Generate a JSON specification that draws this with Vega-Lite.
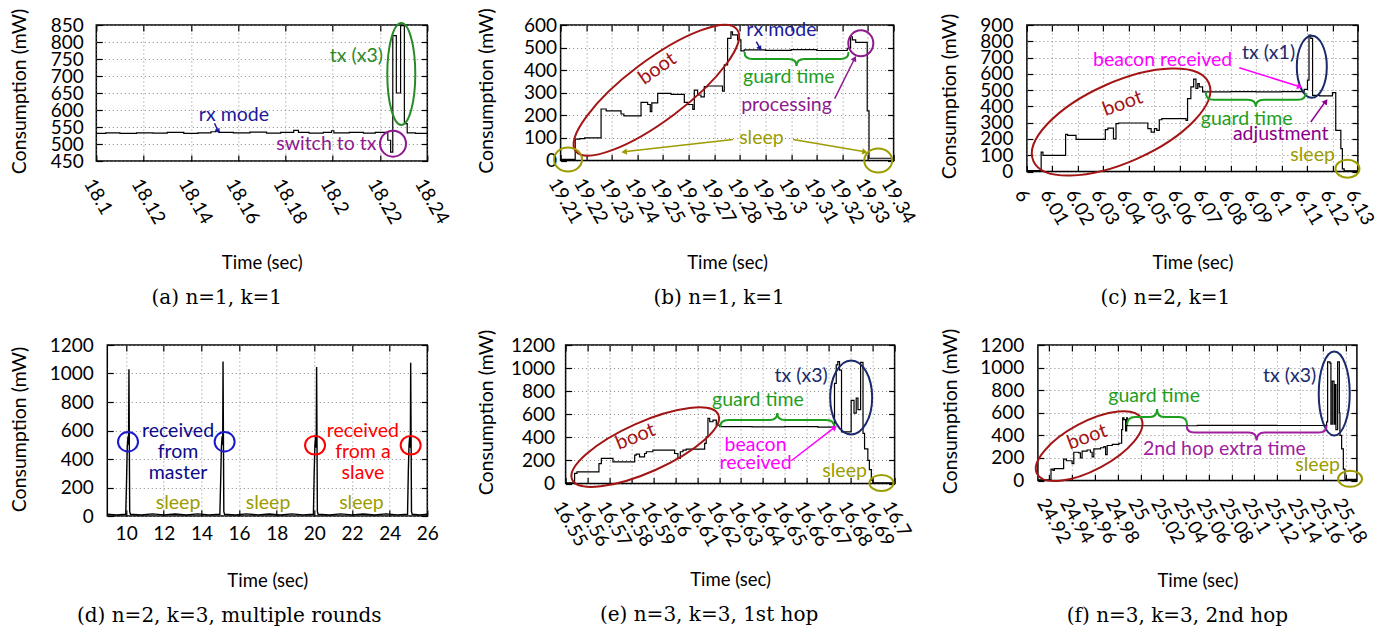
{
"$schema": "https://vega.github.io/schema/vega-lite/v6.json",
"background": "white",
"padding": {"left": 0, "top": 2, "right": 0, "bottom": 0},
"columns": 4,
"spacing": {"row": 13, "column": 2.3},
"bounds": "full",
"align": {"row": "all", "column": "none"},
"datasets": {
"a": [{"t":18.1,"p":531},{"t":18.104,"p":533},{"t":18.11,"p":531},{"t":18.117,"p":533},{"t":18.124,"p":532},{"t":18.13,"p":534},{"t":18.137,"p":531},{"t":18.143,"p":533},{"t":18.1485,"p":536},{"t":18.1505,"p":538},{"t":18.152,"p":534},{"t":18.158,"p":533},{"t":18.165,"p":535},{"t":18.172,"p":532},{"t":18.178,"p":534},{"t":18.1835,"p":540},{"t":18.1855,"p":534},{"t":18.19,"p":532},{"t":18.196,"p":534},{"t":18.1995,"p":539},{"t":18.2005,"p":533},{"t":18.207,"p":534},{"t":18.213,"p":532},{"t":18.218,"p":534},{"t":18.2233,"p":511},{"t":18.2245,"p":476},{"t":18.2254,"p":819},{"t":18.2269,"p":650},{"t":18.2287,"p":848},{"t":18.2303,"p":560},{"t":18.2315,"p":533},{"t":18.235,"p":531},{"t":18.24,"p":532}],
"b": [{"t":19.21,"p":5},{"t":19.2157,"p":95},{"t":19.2175,"p":97},{"t":19.2194,"p":100},{"t":19.2258,"p":228},{"t":19.2278,"p":220},{"t":19.2336,"p":206},{"t":19.2347,"p":198},{"t":19.2414,"p":257},{"t":19.244,"p":248},{"t":19.245,"p":216},{"t":19.2456,"p":255},{"t":19.2479,"p":297},{"t":19.2531,"p":293},{"t":19.2583,"p":257},{"t":19.2596,"p":248},{"t":19.2616,"p":226},{"t":19.2622,"p":312},{"t":19.2635,"p":290},{"t":19.2648,"p":282},{"t":19.2661,"p":327},{"t":19.2674,"p":330},{"t":19.2732,"p":307},{"t":19.2739,"p":423},{"t":19.2752,"p":541},{"t":19.2765,"p":570},{"t":19.2771,"p":556},{"t":19.2791,"p":534},{"t":19.2804,"p":485},{"t":19.2817,"p":490},{"t":19.29,"p":488},{"t":19.3,"p":491},{"t":19.31,"p":487},{"t":19.3219,"p":497},{"t":19.3232,"p":548},{"t":19.3239,"p":534},{"t":19.3252,"p":523},{"t":19.3297,"p":220},{"t":19.3304,"p":10},{"t":19.34,"p":10}],
"c": [{"t":6,"p":6},{"t":6.0056,"p":119},{"t":6.0063,"p":99},{"t":6.0152,"p":228},{"t":6.016,"p":222},{"t":6.0193,"p":197},{"t":6.0308,"p":257},{"t":6.0318,"p":267},{"t":6.034,"p":201},{"t":6.035,"p":294},{"t":6.036,"p":298},{"t":6.0475,"p":263},{"t":6.0488,"p":242},{"t":6.0501,"p":263},{"t":6.051,"p":253},{"t":6.052,"p":318},{"t":6.053,"p":325},{"t":6.0625,"p":314},{"t":6.0631,"p":448},{"t":6.0644,"p":520},{"t":6.0655,"p":567},{"t":6.0664,"p":510},{"t":6.0671,"p":540},{"t":6.0677,"p":520},{"t":6.069,"p":489},{"t":6.08,"p":491},{"t":6.09,"p":489},{"t":6.1,"p":491},{"t":6.1089,"p":505},{"t":6.1102,"p":561},{"t":6.1108,"p":838},{"t":6.1115,"p":818},{"t":6.1122,"p":468},{"t":6.115,"p":464},{"t":6.12,"p":485},{"t":6.1213,"p":253},{"t":6.1233,"p":140},{"t":6.1239,"p":16},{"t":6.1246,"p":4},{"t":6.13,"p":4}],
"d": [{"t":9,"p":12},{"t":9.5,"p":7},{"t":9.98,"p":12},{"t":10.02,"p":230},{"t":10.06,"p":480},{"t":10.1,"p":560},{"t":10.13,"p":500},{"t":10.15,"p":1030},{"t":10.19,"p":30},{"t":10.23,"p":12},{"t":10.8,"p":7},{"t":11.4,"p":15},{"t":12,"p":8},{"t":12.6,"p":14},{"t":13.2,"p":7},{"t":13.8,"p":15},{"t":14.4,"p":8},{"t":14.98,"p":12},{"t":15.02,"p":230},{"t":15.06,"p":480},{"t":15.1,"p":560},{"t":15.13,"p":500},{"t":15.148,"p":1085},{"t":15.19,"p":30},{"t":15.23,"p":12},{"t":15.8,"p":7},{"t":16.4,"p":15},{"t":17,"p":8},{"t":17.6,"p":14},{"t":18.2,"p":7},{"t":18.8,"p":15},{"t":19.4,"p":8},{"t":19.95,"p":12},{"t":19.99,"p":300},{"t":20.03,"p":500},{"t":20.07,"p":560},{"t":20.1,"p":480},{"t":20.12,"p":1045},{"t":20.16,"p":30},{"t":20.2,"p":12},{"t":20.8,"p":7},{"t":21.4,"p":15},{"t":22,"p":8},{"t":22.6,"p":14},{"t":23.2,"p":7},{"t":23.8,"p":15},{"t":24.4,"p":8},{"t":24.95,"p":12},{"t":24.99,"p":300},{"t":25.03,"p":500},{"t":25.07,"p":560},{"t":25.1,"p":480},{"t":25.117,"p":1075},{"t":25.16,"p":30},{"t":25.2,"p":12},{"t":25.6,"p":7},{"t":26,"p":12}],
"e": [{"t":16.55,"p":6},{"t":16.5541,"p":87},{"t":16.5552,"p":101},{"t":16.5652,"p":173},{"t":16.5663,"p":217},{"t":16.5716,"p":188},{"t":16.5815,"p":246},{"t":16.5822,"p":254},{"t":16.5837,"p":231},{"t":16.586,"p":260},{"t":16.5868,"p":275},{"t":16.5898,"p":289},{"t":16.5997,"p":260},{"t":16.6012,"p":217},{"t":16.6023,"p":275},{"t":16.6035,"p":289},{"t":16.605,"p":298},{"t":16.6134,"p":347},{"t":16.6141,"p":405},{"t":16.6149,"p":564},{"t":16.6157,"p":535},{"t":16.6172,"p":549},{"t":16.6187,"p":506},{"t":16.6202,"p":492},{"t":16.635,"p":490},{"t":16.65,"p":492},{"t":16.665,"p":489},{"t":16.6726,"p":868},{"t":16.6734,"p":1027},{"t":16.6741,"p":1056},{"t":16.6749,"p":983},{"t":16.6758,"p":448},{"t":16.6802,"p":720},{"t":16.6815,"p":610},{"t":16.6825,"p":740},{"t":16.6833,"p":640},{"t":16.6845,"p":1050},{"t":16.6856,"p":434},{"t":16.6863,"p":300},{"t":16.6878,"p":200},{"t":16.6885,"p":120},{"t":16.6894,"p":29},{"t":16.6901,"p":6},{"t":16.7,"p":6}],
"f": [{"t":24.91,"p":6},{"t":24.9215,"p":100},{"t":24.9232,"p":90},{"t":24.9244,"p":105},{"t":24.9326,"p":190},{"t":24.935,"p":175},{"t":24.94,"p":150},{"t":24.9415,"p":250},{"t":24.9459,"p":245},{"t":24.9473,"p":200},{"t":24.9488,"p":260},{"t":24.9532,"p":270},{"t":24.9561,"p":250},{"t":24.9576,"p":210},{"t":24.9591,"p":280},{"t":24.965,"p":290},{"t":24.9679,"p":300},{"t":24.9694,"p":230},{"t":24.9708,"p":310},{"t":24.9753,"p":320},{"t":24.9811,"p":330},{"t":24.9835,"p":450},{"t":24.9844,"p":555},{"t":24.9855,"p":540},{"t":24.987,"p":440},{"t":24.9879,"p":555},{"t":24.9885,"p":485},{"t":25.05,"p":489},{"t":25.12,"p":487},{"t":25.1619,"p":489},{"t":25.1634,"p":520},{"t":25.1643,"p":1050},{"t":25.1663,"p":1040},{"t":25.1672,"p":500},{"t":25.1684,"p":880},{"t":25.1699,"p":500},{"t":25.1707,"p":850},{"t":25.1716,"p":450},{"t":25.1731,"p":1050},{"t":25.1746,"p":600},{"t":25.1751,"p":400},{"t":25.1766,"p":280},{"t":25.1781,"p":100},{"t":25.1795,"p":10},{"t":25.19,"p":8}]
},
"concat": [
{"width": 1, "height": 1, "view": {"stroke": null}, "data": {"values": [{"t": 0}]}, "mark": {"type": "point", "opacity": 0, "size": 1}, "encoding": {}},
{
"width": 331, "height": 136,
"title": {"text": "(a) n=1, k=1", "dx": -45},
"resolve": {"axis": {"x": "independent", "y": "independent"}},
"layer": [
{"data": {"name": "a"}, "mark": {"type": "line", "opacity": 0},
 "encoding": {"x": {"field": "t", "type": "quantitative", "axis": {"orient": "top", "values": [18.1,18.12,18.14,18.16,18.18,18.2,18.22,18.24], "labels": false, "grid": false, "minExtent": 0, "title": ".", "titleOpacity": 0, "titleFontSize": 4, "titleX": -91, "titleY": -22, "titleAlign": "right", "titleBaseline": "top"}},
  "y": {"field": "p", "type": "quantitative", "axis": {"orient": "right", "values": [450,500,550,600,650,700,750,800,850], "labels": false, "grid": false, "minExtent": 0, "title": ".", "titleOpacity": 0, "titleFontSize": 4, "titleAngle": 0, "titleX": 28.5, "titleY": -22, "titleAlign": "left", "titleBaseline": "top"}}}},
{"data": {"name": "a"}, "mark": {"type": "line", "interpolate": "step-after", "color": "#000", "strokeWidth": 1.2},
 "encoding": {"x": {"field": "t", "type": "quantitative", "scale": {"domain": [18.1, 18.24], "nice": false, "zero": false}, "axis": {"orient": "bottom", "values": [18.1,18.12,18.14,18.16,18.18,18.2,18.22,18.24], "grid": true, "labelAngle": 60, "labelAlign": "left", "labelBaseline": "middle", "labelPadding": 25, "labelOffset": -8, "title": "Time (sec)", "titleY": 101, "titleBaseline": "middle"}},
  "y": {"field": "p", "type": "quantitative", "scale": {"domain": [450, 850], "nice": false, "zero": false}, "axis": {"orient": "left", "values": [450,500,550,600,650,700,750,800,850], "grid": true, "labelPadding": 19, "title": "Consumption (mW)", "titleX": -76.7, "titleY": 66, "titleBaseline": "middle"}}}},
{"data": {"values": [{"t":18.1582,"p":584,"label":"rx mode","kind":"rx"},{"t":18.21,"p":760,"label":"tx (x3)","kind":"txa"},{"t":18.1973,"p":499,"label":"switch to tx","kind":"switch"}]},
 "mark": {"type": "text", "font": "Lato", "fontSize": 19.5, "align": "center", "baseline": "middle"},
 "encoding": {"x": {"field": "t", "type": "quantitative", "axis": null}, "y": {"field": "p", "type": "quantitative", "axis": null}, "text": {"field": "label"},
  "color": {"field": "kind", "type": "nominal", "legend": null, "scale": {"domain": ["boot","sleep","guard","rx","proc","txa","tx","beacon","adjust","master","slave","hop","switch"], "range": ["#A31515","#9C9C00","#1E9E1E","#1A1A9A","#8E1A8E","#2A8A2A","#1B2A6B","#FF00FF","#8B008B","#0A0A8A","#FF0000","#A020A0","#8E1A8E"]}}}},
{"data": {"values": [{"t":18.229,"p":706}]}, "mark": {"type": "point", "shape": "M -14 0 A 14 51 0 1 0 14 0 A 14 51 0 1 0 -14 0 Z", "size": 4, "filled": false, "opacity": 1, "stroke": "#2A8A2A", "strokeWidth": 2},
 "encoding": {"x": {"field": "t", "type": "quantitative", "axis": null}, "y": {"field": "p", "type": "quantitative", "axis": null}}},
{"data": {"values": [{"t":18.2255,"p":501}]}, "mark": {"type": "point", "shape": "M -13 0 A 13 13 0 1 0 13 0 A 13 13 0 1 0 -13 0 Z", "size": 4, "filled": false, "opacity": 1, "stroke": "#8E1A8E", "strokeWidth": 2},
 "encoding": {"x": {"field": "t", "type": "quantitative", "axis": null}, "y": {"field": "p", "type": "quantitative", "axis": null}}},
{"data": {"values": [{"t":18.15,"p":561,"t2":18.1513,"p2":541}]}, "mark": {"type": "rule", "color": "#1A1A9A", "strokeWidth": 1.5},
 "encoding": {"x": {"field": "t", "type": "quantitative", "axis": null}, "y": {"field": "p", "type": "quantitative", "axis": null}, "x2": {"field": "t2"}, "y2": {"field": "p2"}}},
{"data": {"values": [{"t":18.1515,"p":538}]}, "mark": {"type": "point", "shape": "triangle-up", "size": 30, "filled": true, "opacity": 1, "color": "#1A1A9A", "angle": 159},
 "encoding": {"x": {"field": "t", "type": "quantitative", "axis": null}, "y": {"field": "p", "type": "quantitative", "axis": null}}}
]
},
{
"width": 333, "height": 135.5,
"title": {"text": "(b) n=1, k=1", "dx": -8},
"resolve": {"axis": {"x": "independent", "y": "independent"}},
"layer": [
{"data": {"name": "b"}, "mark": {"type": "line", "opacity": 0},
 "encoding": {"x": {"field": "t", "type": "quantitative", "axis": {"orient": "top", "values": [19.21,19.22,19.23,19.24,19.25,19.26,19.27,19.28,19.29,19.3,19.31,19.32,19.33,19.34], "labels": false, "grid": false, "minExtent": 0, "title": ".", "titleOpacity": 0, "titleFontSize": 4, "titleX": -98, "titleY": -22, "titleAlign": "right", "titleBaseline": "top"}},
  "y": {"field": "p", "type": "quantitative", "axis": {"orient": "right", "values": [0,100,200,300,400,500,600], "labels": false, "grid": false, "minExtent": 0, "title": ".", "titleOpacity": 0, "titleFontSize": 4, "titleAngle": 0, "titleX": 30.5, "titleY": -22, "titleAlign": "left", "titleBaseline": "top"}}}},
{"data": {"name": "b"}, "mark": {"type": "line", "interpolate": "step-after", "color": "#000", "strokeWidth": 1.2},
 "encoding": {"x": {"field": "t", "type": "quantitative", "scale": {"domain": [19.21, 19.34], "nice": false, "zero": false}, "axis": {"orient": "bottom", "values": [19.21,19.22,19.23,19.24,19.25,19.26,19.27,19.28,19.29,19.3,19.31,19.32,19.33,19.34], "grid": true, "labelAngle": 60, "labelAlign": "left", "labelBaseline": "middle", "labelPadding": 25, "labelOffset": -8, "title": "Time (sec)", "titleY": 102, "titleBaseline": "middle"}},
  "y": {"field": "p", "type": "quantitative", "scale": {"domain": [0, 600], "nice": false}, "axis": {"orient": "left", "values": [0,100,200,300,400,500,600], "grid": true, "labelPadding": 10, "title": "Consumption (mW)", "titleX": -74.3, "titleY": 65.5, "titleBaseline": "middle"}}}},
{"data": {"values": [{"t":19.2962,"p":578,"label":"rx mode","kind":"rx"},{"t":19.2991,"p":370,"label":"guard time","kind":"guard"},{"t":19.2982,"p":244,"label":"processing","kind":"proc"},{"t":19.2884,"p":101,"label":"sleep","kind":"sleep"}]},
 "mark": {"type": "text", "font": "Lato", "fontSize": 19.5, "align": "center", "baseline": "middle"},
 "encoding": {"x": {"field": "t", "type": "quantitative", "axis": null}, "y": {"field": "p", "type": "quantitative", "axis": null}, "text": {"field": "label"},
  "color": {"field": "kind", "type": "nominal", "legend": null, "scale": {"domain": ["boot","sleep","guard","rx","proc","txa","tx","beacon","adjust","master","slave","hop","switch"], "range": ["#A31515","#9C9C00","#1E9E1E","#1A1A9A","#8E1A8E","#2A8A2A","#1B2A6B","#FF00FF","#8B008B","#0A0A8A","#FF0000","#A020A0","#8E1A8E"]}}}},
{"data": {"values": [{"t":19.2478,"p":407,"label":"boot"}]}, "mark": {"type": "text", "font": "Lato", "fontSize": 20, "align": "center", "baseline": "middle", "angle": 325, "color": "#A31515"},
 "encoding": {"x": {"field": "t", "type": "quantitative", "axis": null}, "y": {"field": "p", "type": "quantitative", "axis": null}, "text": {"field": "label"}}},
{"data": {"values": [{"t":19.2474,"p":311}]}, "mark": {"type": "point", "shape": "M -101 0 A 101 30 0 1 0 101 0 A 101 30 0 1 0 -101 0 Z", "size": 4, "angle": 323, "filled": false, "opacity": 1, "stroke": "#A31515", "strokeWidth": 2},
 "encoding": {"x": {"field": "t", "type": "quantitative", "axis": null}, "y": {"field": "p", "type": "quantitative", "axis": null}}},
{"data": {"values": [{"t":19.2129,"p":4},{"t":19.334,"p":0}]}, "mark": {"type": "point", "shape": "M -14 0 A 14 12 0 1 0 14 0 A 14 12 0 1 0 -14 0 Z", "size": 4, "filled": false, "opacity": 1, "stroke": "#9C9C00", "strokeWidth": 2},
 "encoding": {"x": {"field": "t", "type": "quantitative", "axis": null}, "y": {"field": "p", "type": "quantitative", "axis": null}}},
{"data": {"values": [{"t":19.3272,"p":519}]}, "mark": {"type": "point", "shape": "M -12.5 0 A 12.5 13 0 1 0 12.5 0 A 12.5 13 0 1 0 -12.5 0 Z", "size": 4, "filled": false, "opacity": 1, "stroke": "#8E1A8E", "strokeWidth": 2},
 "encoding": {"x": {"field": "t", "type": "quantitative", "axis": null}, "y": {"field": "p", "type": "quantitative", "axis": null}}},
{"data": {"values": [{"t":19.3021,"p":449}]}, "mark": {"type": "point", "shape": "M -52 -7 Q -52 0 -44 0 L -8 0 Q 0 0 0 7 Q 0 0 8 0 L 44 0 Q 52 0 52 -7", "size": 4, "filled": false, "opacity": 1, "stroke": "#1E9E1E", "strokeWidth": 2},
 "encoding": {"x": {"field": "t", "type": "quantitative", "axis": null}, "y": {"field": "p", "type": "quantitative", "axis": null}}},
{"data": {"values": [{"t":19.2864,"p":526,"t2":19.2876,"p2":502,"kind":"rx"},{"t":19.317,"p":274,"t2":19.3245,"p2":445,"kind":"proc"},{"t":19.2773,"p":93,"t2":19.2355,"p2":40,"kind":"sleep"},{"t":19.3008,"p":93,"t2":19.3282,"p2":40,"kind":"sleep"}]}, "mark": {"type": "rule", "strokeWidth": 1.5},
 "encoding": {"x": {"field": "t", "type": "quantitative", "axis": null}, "y": {"field": "p", "type": "quantitative", "axis": null}, "x2": {"field": "t2"}, "y2": {"field": "p2"},
  "color": {"field": "kind", "type": "nominal", "legend": null, "scale": {"domain": ["boot","sleep","guard","rx","proc","txa","tx","beacon","adjust","master","slave","hop","switch"], "range": ["#A31515","#9C9C00","#1E9E1E","#1A1A9A","#8E1A8E","#2A8A2A","#1B2A6B","#FF00FF","#8B008B","#0A0A8A","#FF0000","#A020A0","#8E1A8E"]}}}},
{"data": {"values": [{"t":19.2878,"p":496}]}, "mark": {"type": "point", "shape": "triangle-up", "size": 30, "filled": true, "opacity": 1, "color": "#1A1A9A", "angle": 154},
 "encoding": {"x": {"field": "t", "type": "quantitative", "axis": null}, "y": {"field": "p", "type": "quantitative", "axis": null}}},
{"data": {"values": [{"t":19.3248,"p":452}]}, "mark": {"type": "point", "shape": "triangle-up", "size": 40, "filled": true, "opacity": 1, "color": "#8E1A8E", "angle": 27},
 "encoding": {"x": {"field": "t", "type": "quantitative", "axis": null}, "y": {"field": "p", "type": "quantitative", "axis": null}}},
{"data": {"values": [{"t":19.2348,"p":38}]}, "mark": {"type": "point", "shape": "triangle-up", "size": 40, "filled": true, "opacity": 1, "color": "#9C9C00", "angle": 263},
 "encoding": {"x": {"field": "t", "type": "quantitative", "axis": null}, "y": {"field": "p", "type": "quantitative", "axis": null}}},
{"data": {"values": [{"t":19.3288,"p":38}]}, "mark": {"type": "point", "shape": "triangle-up", "size": 40, "filled": true, "opacity": 1, "color": "#9C9C00", "angle": 100},
 "encoding": {"x": {"field": "t", "type": "quantitative", "axis": null}, "y": {"field": "p", "type": "quantitative", "axis": null}}}
]
},
{
"width": 331, "height": 146.5,
"title": {"text": "(c) n=2, k=1", "dx": -27},
"resolve": {"axis": {"x": "independent", "y": "independent"}},
"layer": [
{"data": {"name": "c"}, "mark": {"type": "line", "opacity": 0},
 "encoding": {"x": {"field": "t", "type": "quantitative", "axis": {"orient": "top", "values": [6,6.01,6.02,6.03,6.04,6.05,6.06,6.07,6.08,6.09,6.1,6.11,6.12,6.13], "labels": false, "grid": false, "minExtent": 0, "title": ".", "titleOpacity": 0, "titleFontSize": 4, "titleX": -96, "titleY": -22, "titleAlign": "right", "titleBaseline": "top"}},
  "y": {"field": "p", "type": "quantitative", "axis": {"orient": "right", "values": [0,100,200,300,400,500,600,700,800,900], "labels": false, "grid": false, "minExtent": 0, "title": ".", "titleOpacity": 0, "titleFontSize": 4, "titleAngle": 0, "titleX": 28, "titleY": -22, "titleAlign": "left", "titleBaseline": "top"}}}},
{"data": {"name": "c"}, "mark": {"type": "line", "interpolate": "step-after", "color": "#000", "strokeWidth": 1.2},
 "encoding": {"x": {"field": "t", "type": "quantitative", "scale": {"domain": [6, 6.13], "nice": false, "zero": false}, "axis": {"orient": "bottom", "values": [6,6.01,6.02,6.03,6.04,6.05,6.06,6.07,6.08,6.09,6.1,6.11,6.12,6.13], "grid": true, "labelAngle": 60, "labelAlign": "left", "labelBaseline": "middle", "labelPadding": 25, "labelOffset": -8, "title": "Time (sec)", "titleY": 91, "titleBaseline": "middle"}},
  "y": {"field": "p", "type": "quantitative", "scale": {"domain": [0, 900], "nice": false}, "axis": {"orient": "left", "values": [0,100,200,300,400,500,600,700,800,900], "grid": true, "labelPadding": 20, "title": "Consumption (mW)", "titleX": -77.2, "titleY": 71, "titleBaseline": "middle"}}}},
{"data": {"values": [{"t":6.0863,"p":320,"label":"guard time","kind":"guard"},{"t":6.0949,"p":725,"label":"tx (x1)","kind":"tx"},{"t":6.0533,"p":684,"label":"beacon received","kind":"beacon"},{"t":6.0997,"p":232,"label":"adjustment","kind":"adjust"},{"t":6.1122,"p":99,"label":"sleep","kind":"sleep"}]},
 "mark": {"type": "text", "font": "Lato", "fontSize": 19.5, "align": "center", "baseline": "middle"},
 "encoding": {"x": {"field": "t", "type": "quantitative", "axis": null}, "y": {"field": "p", "type": "quantitative", "axis": null}, "text": {"field": "label"},
  "color": {"field": "kind", "type": "nominal", "legend": null, "scale": {"domain": ["boot","sleep","guard","rx","proc","txa","tx","beacon","adjust","master","slave","hop","switch"], "range": ["#A31515","#9C9C00","#1E9E1E","#1A1A9A","#8E1A8E","#2A8A2A","#1B2A6B","#FF00FF","#8B008B","#0A0A8A","#FF0000","#A020A0","#8E1A8E"]}}}},
{"data": {"values": [{"t":6.0376,"p":417,"label":"boot"}]}, "mark": {"type": "text", "font": "Lato", "fontSize": 20, "align": "center", "baseline": "middle", "angle": 340, "color": "#A31515"},
 "encoding": {"x": {"field": "t", "type": "quantitative", "axis": null}, "y": {"field": "p", "type": "quantitative", "axis": null}, "text": {"field": "label"}}},
{"data": {"values": [{"t":6.037,"p":304}]}, "mark": {"type": "point", "shape": "M -96 0 A 96 40 0 1 0 96 0 A 96 40 0 1 0 -96 0 Z", "size": 4, "angle": 336, "filled": false, "opacity": 1, "stroke": "#A31515", "strokeWidth": 2},
 "encoding": {"x": {"field": "t", "type": "quantitative", "axis": null}, "y": {"field": "p", "type": "quantitative", "axis": null}}},
{"data": {"values": [{"t":6.1119,"p":643}]}, "mark": {"type": "point", "shape": "M -15 0 A 15 31 0 1 0 15 0 A 15 31 0 1 0 -15 0 Z", "size": 4, "filled": false, "opacity": 1, "stroke": "#1B2A6B", "strokeWidth": 2},
 "encoding": {"x": {"field": "t", "type": "quantitative", "axis": null}, "y": {"field": "p", "type": "quantitative", "axis": null}}},
{"data": {"values": [{"t":6.1259,"p":17}]}, "mark": {"type": "point", "shape": "M -12 0 A 12 9 0 1 0 12 0 A 12 9 0 1 0 -12 0 Z", "size": 4, "filled": false, "opacity": 1, "stroke": "#9C9C00", "strokeWidth": 2},
 "encoding": {"x": {"field": "t", "type": "quantitative", "axis": null}, "y": {"field": "p", "type": "quantitative", "axis": null}}},
{"data": {"values": [{"t":6.0899,"p":441}]}, "mark": {"type": "point", "shape": "M -50 -7 Q -50 0 -42 0 L -8 0 Q 0 0 0 7 Q 0 0 8 0 L 42 0 Q 50 0 50 -7", "size": 4, "filled": false, "opacity": 1, "stroke": "#1E9E1E", "strokeWidth": 2},
 "encoding": {"x": {"field": "t", "type": "quantitative", "axis": null}, "y": {"field": "p", "type": "quantitative", "axis": null}}},
{"data": {"values": [{"t":6.0834,"p":637,"t2":6.1066,"p2":524,"kind":"beacon"},{"t":6.1115,"p":304,"t2":6.117,"p2":425,"kind":"adjust"}]}, "mark": {"type": "rule", "strokeWidth": 1.5},
 "encoding": {"x": {"field": "t", "type": "quantitative", "axis": null}, "y": {"field": "p", "type": "quantitative", "axis": null}, "x2": {"field": "t2"}, "y2": {"field": "p2"},
  "color": {"field": "kind", "type": "nominal", "legend": null, "scale": {"domain": ["boot","sleep","guard","rx","proc","txa","tx","beacon","adjust","master","slave","hop","switch"], "range": ["#A31515","#9C9C00","#1E9E1E","#1A1A9A","#8E1A8E","#2A8A2A","#1B2A6B","#FF00FF","#8B008B","#0A0A8A","#FF0000","#A020A0","#8E1A8E"]}}}},
{"data": {"values": [{"t":6.1072,"p":520}]}, "mark": {"type": "point", "shape": "triangle-up", "size": 40, "filled": true, "opacity": 1, "color": "#FF00FF", "angle": 107},
 "encoding": {"x": {"field": "t", "type": "quantitative", "axis": null}, "y": {"field": "p", "type": "quantitative", "axis": null}}},
{"data": {"values": [{"t":6.1174,"p":431}]}, "mark": {"type": "point", "shape": "triangle-up", "size": 40, "filled": true, "opacity": 1, "color": "#8B008B", "angle": 36},
 "encoding": {"x": {"field": "t", "type": "quantitative", "axis": null}, "y": {"field": "p", "type": "quantitative", "axis": null}}}
]
},
{"width": 1, "height": 1, "view": {"stroke": null}, "data": {"values": [{"t": 0}]}, "mark": {"type": "point", "opacity": 0, "size": 1}, "encoding": {}},
{
"width": 320, "height": 171,
"title": {"text": "(d) n=2, k=3, multiple rounds", "dx": -38},
"resolve": {"axis": {"x": "independent", "y": "independent"}},
"layer": [
{"data": {"name": "d"}, "mark": {"type": "line", "opacity": 0},
 "encoding": {"x": {"field": "t", "type": "quantitative", "axis": {"orient": "top", "values": [10,12,14,16,18,20,22,24,26], "labels": false, "grid": false, "minExtent": 0, "title": ".", "titleOpacity": 0, "titleFontSize": 4, "titleX": -102, "titleY": -22, "titleAlign": "right", "titleBaseline": "top"}},
  "y": {"field": "p", "type": "quantitative", "axis": {"orient": "right", "values": [0,200,400,600,800,1000,1200], "labels": false, "grid": false, "minExtent": 0, "title": ".", "titleOpacity": 0, "titleFontSize": 4, "titleAngle": 0, "titleX": 28.5, "titleY": -22, "titleAlign": "left", "titleBaseline": "top"}}}},
{"data": {"name": "d"}, "mark": {"type": "line", "color": "#000", "strokeWidth": 1.4},
 "encoding": {"x": {"field": "t", "type": "quantitative", "scale": {"domain": [9, 26], "nice": false, "zero": false}, "axis": {"orient": "bottom", "values": [10,12,14,16,18,20,22,24,26], "grid": true, "labelAngle": 0, "labelAlign": "center", "labelBaseline": "top", "labelPadding": 14, "title": "Time (sec)", "titleY": 64, "titleBaseline": "middle"}},
  "y": {"field": "p", "type": "quantitative", "scale": {"domain": [0, 1200], "nice": false}, "axis": {"orient": "left", "values": [0,200,400,600,800,1000,1200], "grid": true, "labelPadding": 20, "title": "Consumption (mW)", "titleX": -87.7, "titleY": 84, "titleBaseline": "middle"}}}},
{"data": {"values": [{"t":12.757,"p":594,"label":"received\nfrom\nmaster","kind":"master"},{"t":22.58,"p":594,"label":"received\nfrom a\nslave","kind":"slave"},{"t":12.757,"p":91,"label":"sleep","kind":"sleep"},{"t":17.54,"p":91,"label":"sleep","kind":"sleep"},{"t":22.5,"p":91,"label":"sleep","kind":"sleep"}]},
 "mark": {"type": "text", "font": "Lato", "fontSize": 19.5, "align": "center", "baseline": "middle", "lineBreak": "\n", "lineHeight": 20.7},
 "encoding": {"x": {"field": "t", "type": "quantitative", "axis": null}, "y": {"field": "p", "type": "quantitative", "axis": null}, "text": {"field": "label"},
  "color": {"field": "kind", "type": "nominal", "legend": null, "scale": {"domain": ["boot","sleep","guard","rx","proc","txa","tx","beacon","adjust","master","slave","hop","switch"], "range": ["#A31515","#9C9C00","#1E9E1E","#1A1A9A","#8E1A8E","#2A8A2A","#1B2A6B","#FF00FF","#8B008B","#0A0A8A","#FF0000","#A020A0","#8E1A8E"]}}}},
{"data": {"values": [{"t":10.1,"p":521},{"t":15.233,"p":521}]}, "mark": {"type": "point", "shape": "M -10 0 A 10 9.7 0 1 0 10 0 A 10 9.7 0 1 0 -10 0 Z", "size": 4, "filled": false, "opacity": 1, "stroke": "#1A1ACC", "strokeWidth": 2},
 "encoding": {"x": {"field": "t", "type": "quantitative", "axis": null}, "y": {"field": "p", "type": "quantitative", "axis": null}}},
{"data": {"values": [{"t":20.036,"p":496},{"t":25.116,"p":496}]}, "mark": {"type": "point", "shape": "M -10 0 A 10 9.3 0 1 0 10 0 A 10 9.3 0 1 0 -10 0 Z", "size": 4, "filled": false, "opacity": 1, "stroke": "#FF0000", "strokeWidth": 2},
 "encoding": {"x": {"field": "t", "type": "quantitative", "axis": null}, "y": {"field": "p", "type": "quantitative", "axis": null}}}
]
},
{
"width": 329, "height": 138.5,
"title": {"text": "(e) n=3, k=3, 1st hop", "dx": -21},
"resolve": {"axis": {"x": "independent", "y": "independent"}},
"layer": [
{"data": {"name": "e"}, "mark": {"type": "line", "opacity": 0},
 "encoding": {"x": {"field": "t", "type": "quantitative", "axis": {"orient": "top", "values": [16.55,16.56,16.57,16.58,16.59,16.6,16.61,16.62,16.63,16.64,16.65,16.66,16.67,16.68,16.69,16.7], "labels": false, "grid": false, "minExtent": 0, "title": ".", "titleOpacity": 0, "titleFontSize": 4, "titleX": -92, "titleY": -22, "titleAlign": "right", "titleBaseline": "top"}},
  "y": {"field": "p", "type": "quantitative", "axis": {"orient": "right", "values": [0,200,400,600,800,1000,1200], "labels": false, "grid": false, "minExtent": 0, "title": ".", "titleOpacity": 0, "titleFontSize": 4, "titleAngle": 0, "titleX": 29.5, "titleY": -22, "titleAlign": "left", "titleBaseline": "top"}}}},
{"data": {"name": "e"}, "mark": {"type": "line", "interpolate": "step-after", "color": "#000", "strokeWidth": 1.2},
 "encoding": {"x": {"field": "t", "type": "quantitative", "scale": {"domain": [16.55, 16.7], "nice": false, "zero": false}, "axis": {"orient": "bottom", "values": [16.55,16.56,16.57,16.58,16.59,16.6,16.61,16.62,16.63,16.64,16.65,16.66,16.67,16.68,16.69,16.7], "grid": true, "labelAngle": 60, "labelAlign": "left", "labelBaseline": "middle", "labelPadding": 25, "labelOffset": -8, "title": "Time (sec)", "titleY": 96, "titleBaseline": "middle"}},
  "y": {"field": "p", "type": "quantitative", "scale": {"domain": [0, 1200], "nice": false}, "axis": {"orient": "left", "values": [0,200,400,600,800,1000,1200], "grid": true, "labelPadding": 17, "title": "Consumption (mW)", "titleX": -79, "titleY": 67, "titleBaseline": "middle"}}}},
{"data": {"values": [{"t":16.6377,"p":723,"label":"guard time","kind":"guard"},{"t":16.6574,"p":931,"label":"tx (x3)","kind":"tx"},{"t":16.6366,"p":333,"label":"beacon\nreceived","kind":"beacon"},{"t":16.6772,"p":110,"label":"sleep","kind":"sleep"}]},
 "mark": {"type": "text", "font": "Lato", "fontSize": 19.5, "align": "center", "baseline": "middle", "lineBreak": "\n", "lineHeight": 18},
 "encoding": {"x": {"field": "t", "type": "quantitative", "axis": null}, "y": {"field": "p", "type": "quantitative", "axis": null}, "text": {"field": "label"},
  "color": {"field": "kind", "type": "nominal", "legend": null, "scale": {"domain": ["boot","sleep","guard","rx","proc","txa","tx","beacon","adjust","master","slave","hop","switch"], "range": ["#A31515","#9C9C00","#1E9E1E","#1A1A9A","#8E1A8E","#2A8A2A","#1B2A6B","#FF00FF","#8B008B","#0A0A8A","#FF0000","#A020A0","#8E1A8E"]}}}},
{"data": {"values": [{"t":16.5819,"p":405,"label":"boot"}]}, "mark": {"type": "text", "font": "Lato", "fontSize": 20, "align": "center", "baseline": "middle", "angle": 338, "color": "#A31515"},
 "encoding": {"x": {"field": "t", "type": "quantitative", "axis": null}, "y": {"field": "p", "type": "quantitative", "axis": null}, "text": {"field": "label"}}},
{"data": {"values": [{"t":16.5863,"p":315}]}, "mark": {"type": "point", "shape": "M -80 0 A 80 25 0 1 0 80 0 A 80 25 0 1 0 -80 0 Z", "size": 4, "angle": 336, "filled": false, "opacity": 1, "stroke": "#A31515", "strokeWidth": 2},
 "encoding": {"x": {"field": "t", "type": "quantitative", "axis": null}, "y": {"field": "p", "type": "quantitative", "axis": null}}},
{"data": {"values": [{"t":16.6802,"p":746}]}, "mark": {"type": "point", "shape": "M -21 0 A 21 37 0 1 0 21 0 A 21 37 0 1 0 -21 0 Z", "size": 4, "filled": false, "opacity": 1, "stroke": "#1B2A6B", "strokeWidth": 2},
 "encoding": {"x": {"field": "t", "type": "quantitative", "axis": null}, "y": {"field": "p", "type": "quantitative", "axis": null}}},
{"data": {"values": [{"t":16.694,"p":5}]}, "mark": {"type": "point", "shape": "M -12 0 A 12 8 0 1 0 12 0 A 12 8 0 1 0 -12 0 Z", "size": 4, "filled": false, "opacity": 1, "stroke": "#9C9C00", "strokeWidth": 2},
 "encoding": {"x": {"field": "t", "type": "quantitative", "axis": null}, "y": {"field": "p", "type": "quantitative", "axis": null}}},
{"data": {"values": [{"t":16.6465,"p":549.5}]}, "mark": {"type": "point", "shape": "M -57 7 Q -57 0 -49 0 L -8 0 Q 0 0 0 -7 Q 0 0 8 0 L 49 0 Q 57 0 57 7", "size": 4, "filled": false, "opacity": 1, "stroke": "#1E9E1E", "strokeWidth": 2},
 "encoding": {"x": {"field": "t", "type": "quantitative", "axis": null}, "y": {"field": "p", "type": "quantitative", "axis": null}}},
{"data": {"values": [{"t":16.6529,"p":197,"t2":16.6722,"p2":480}]}, "mark": {"type": "rule", "color": "#FF00FF", "strokeWidth": 1.5},
 "encoding": {"x": {"field": "t", "type": "quantitative", "axis": null}, "y": {"field": "p", "type": "quantitative", "axis": null}, "x2": {"field": "t2"}, "y2": {"field": "p2"}}},
{"data": {"values": [{"t":16.6727,"p":486}]}, "mark": {"type": "point", "shape": "triangle-up", "size": 40, "filled": true, "opacity": 1, "color": "#FF00FF", "angle": 52},
 "encoding": {"x": {"field": "t", "type": "quantitative", "axis": null}, "y": {"field": "p", "type": "quantitative", "axis": null}}}
]
},
{
"width": 319, "height": 135.5,
"title": {"text": "(f) n=3, k=3, 2nd hop", "dx": -20},
"resolve": {"axis": {"x": "independent", "y": "independent"}},
"layer": [
{"data": {"name": "f"}, "mark": {"type": "line", "opacity": 0},
 "encoding": {"x": {"field": "t", "type": "quantitative", "axis": {"orient": "top", "values": [24.92,24.94,24.96,24.98,25,25.02,25.04,25.06,25.08,25.1,25.12,25.14,25.16,25.18], "labels": false, "grid": false, "minExtent": 0, "title": ".", "titleOpacity": 0, "titleFontSize": 4, "titleX": -101.4, "titleY": -22, "titleAlign": "right", "titleBaseline": "top"}},
  "y": {"field": "p", "type": "quantitative", "axis": {"orient": "right", "values": [0,200,400,600,800,1000,1200], "labels": false, "grid": false, "minExtent": 0, "title": ".", "titleOpacity": 0, "titleFontSize": 4, "titleAngle": 0, "titleX": 28, "titleY": -22, "titleAlign": "left", "titleBaseline": "top"}}}},
{"data": {"name": "f"}, "mark": {"type": "line", "interpolate": "step-after", "color": "#000", "strokeWidth": 1.2},
 "encoding": {"x": {"field": "t", "type": "quantitative", "scale": {"domain": [24.91, 25.19], "nice": false, "zero": false}, "axis": {"orient": "bottom", "values": [24.92,24.94,24.96,24.98,25,25.02,25.04,25.06,25.08,25.1,25.12,25.14,25.16,25.18], "grid": true, "labelAngle": 60, "labelAlign": "left", "labelBaseline": "middle", "labelPadding": 25, "labelOffset": -8, "title": "Time (sec)", "titleY": 100, "titleBaseline": "middle"}},
  "y": {"field": "p", "type": "quantitative", "scale": {"domain": [0, 1200], "nice": false}, "axis": {"orient": "left", "values": [0,200,400,600,800,1000,1200], "grid": true, "labelPadding": 20, "title": "Consumption (mW)", "titleX": -87.7, "titleY": 66, "titleBaseline": "middle"}}}},
{"data": {"values": [{"t":25.012,"p":747,"label":"guard time","kind":"guard"},{"t":25.0737,"p":282,"label":"2nd hop extra time","kind":"hop"},{"t":25.131,"p":924,"label":"tx (x3)","kind":"tx"},{"t":25.1555,"p":133,"label":"sleep","kind":"sleep"}]},
 "mark": {"type": "text", "font": "Lato", "fontSize": 19.5, "align": "center", "baseline": "middle"},
 "encoding": {"x": {"field": "t", "type": "quantitative", "axis": null}, "y": {"field": "p", "type": "quantitative", "axis": null}, "text": {"field": "label"},
  "color": {"field": "kind", "type": "nominal", "legend": null, "scale": {"domain": ["boot","sleep","guard","rx","proc","txa","tx","beacon","adjust","master","slave","hop","switch"], "range": ["#A31515","#9C9C00","#1E9E1E","#1A1A9A","#8E1A8E","#2A8A2A","#1B2A6B","#FF00FF","#8B008B","#0A0A8A","#FF0000","#A020A0","#8E1A8E"]}}}},
{"data": {"values": [{"t":24.9532,"p":385,"label":"boot"}]}, "mark": {"type": "text", "font": "Lato", "fontSize": 20, "align": "center", "baseline": "middle", "angle": 340, "color": "#A31515"},
 "encoding": {"x": {"field": "t", "type": "quantitative", "axis": null}, "y": {"field": "p", "type": "quantitative", "axis": null}, "text": {"field": "label"}}},
{"data": {"values": [{"t":24.955,"p":304}]}, "mark": {"type": "point", "shape": "M -59 0 A 59 24 0 1 0 59 0 A 59 24 0 1 0 -59 0 Z", "size": 4, "angle": 332, "filled": false, "opacity": 1, "stroke": "#A31515", "strokeWidth": 2},
 "encoding": {"x": {"field": "t", "type": "quantitative", "axis": null}, "y": {"field": "p", "type": "quantitative", "axis": null}}},
{"data": {"values": [{"t":25.1701,"p":770}]}, "mark": {"type": "point", "shape": "M -15.5 0 A 15.5 42 0 1 0 15.5 0 A 15.5 42 0 1 0 -15.5 0 Z", "size": 4, "filled": false, "opacity": 1, "stroke": "#1B2A6B", "strokeWidth": 2},
 "encoding": {"x": {"field": "t", "type": "quantitative", "axis": null}, "y": {"field": "p", "type": "quantitative", "axis": null}}},
{"data": {"values": [{"t":25.184,"p":15}]}, "mark": {"type": "point", "shape": "M -12 0 A 12 8 0 1 0 12 0 A 12 8 0 1 0 -12 0 Z", "size": 4, "filled": false, "opacity": 1, "stroke": "#9C9C00", "strokeWidth": 2},
 "encoding": {"x": {"field": "t", "type": "quantitative", "axis": null}, "y": {"field": "p", "type": "quantitative", "axis": null}}},
{"data": {"values": [{"t":25.0146,"p":563}]}, "mark": {"type": "point", "shape": "M -30 8 Q -30 0 -22 0 L -7 0 Q 0 0 0 -8 Q 0 0 7 0 L 22 0 Q 30 0 30 8", "size": 4, "filled": false, "opacity": 1, "stroke": "#1E9E1E", "strokeWidth": 2},
 "encoding": {"x": {"field": "t", "type": "quantitative", "axis": null}, "y": {"field": "p", "type": "quantitative", "axis": null}}},
{"data": {"values": [{"t":25.102,"p":424}]}, "mark": {"type": "point", "shape": "M -70 -7 Q -70 0 -62 0 L -8 0 Q 0 0 0 8 Q 0 0 8 0 L 62 0 Q 70 0 70 -7", "size": 4, "filled": false, "opacity": 1, "stroke": "#A020A0", "strokeWidth": 2},
 "encoding": {"x": {"field": "t", "type": "quantitative", "axis": null}, "y": {"field": "p", "type": "quantitative", "axis": null}}}
]
}
],
"config": {
"font": "Lato",
"view": {"stroke": "#000", "strokeWidth": 1.5},
"axis": {"domain": false, "labelFont": "Lato", "labelFontSize": 19, "labelColor": "#000", "titleFont": "Lato", "titleFontSize": 18.5, "titleFontWeight": "normal", "titleColor": "#000", "tickColor": "#000", "tickSize": -6, "tickWidth": 1.2, "gridColor": "#888", "gridDash": [1, 3], "gridWidth": 1, "format": ".6~g", "labelOverlap": false, "labelBound": false, "labelFlush": false},
"axisLeft": {"titleFontSize": 19.5},
"title": {"orient": "bottom", "anchor": "middle", "frame": "group", "font": "DejaVu Serif", "fontSize": 20, "fontWeight": "normal", "color": "#000", "offset": 16}
}
}
